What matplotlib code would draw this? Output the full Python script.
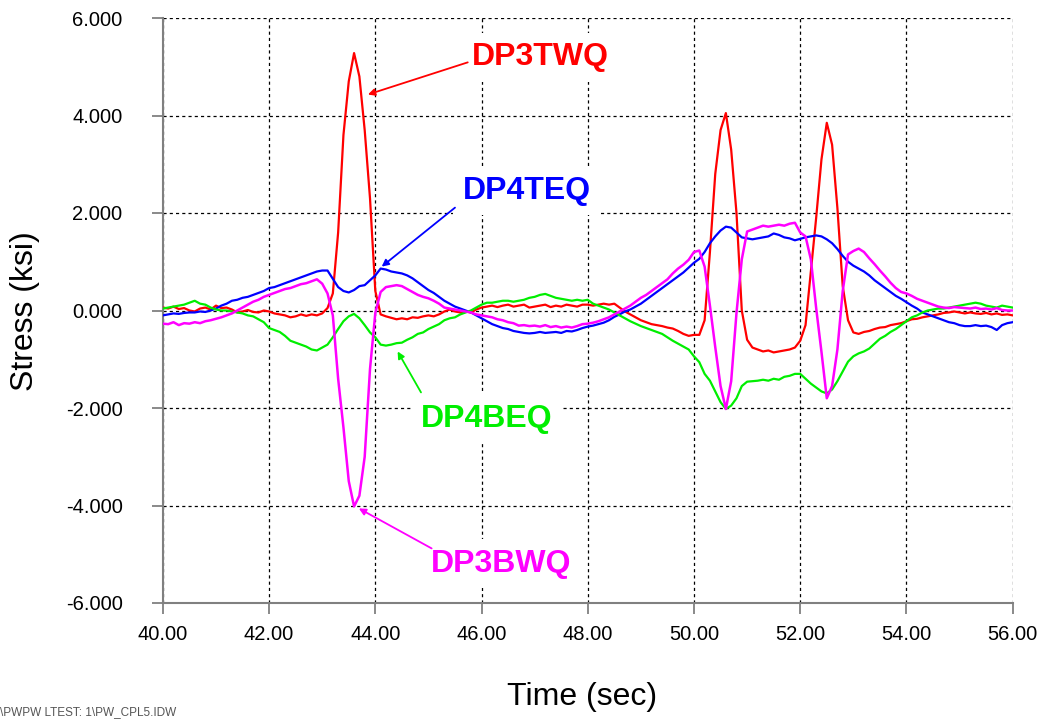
import numpy as np
from matplotlib import pyplot as plt

plt.rcParams["font.family"] = ["Liberation Sans", "DejaVu Sans"]

# strain gauge channels, one sample every 0.1 s from 40.0 to 56.0 s
time_sec = np.round(np.arange(400, 561) / 10.0, 1)

dp3twq = [
    0.06, 0.04, 0.08, 0.03, 0.05, 0.00, -0.02, 0.04, 0.06, 0.02,
    0.10, 0.05, 0.06, 0.02, -0.04, -0.02, 0.01, -0.03, -0.04, 0.00,
    -0.02, -0.06, -0.08, -0.10, -0.14, -0.12, -0.08, -0.11, -0.08, -0.10,
    -0.06, 0.05, 0.35, 1.60, 3.60, 4.70, 5.28, 4.80, 3.70, 2.30,
    0.40, -0.08, -0.12, -0.15, -0.18, -0.16, -0.18, -0.14, -0.15, -0.12,
    -0.10, -0.12, -0.08, -0.02, 0.02, -0.02, -0.04, -0.02, -0.04, 0.02,
    0.06, 0.08, 0.10, 0.07, 0.10, 0.12, 0.08, 0.10, 0.12, 0.06,
    0.08, 0.10, 0.12, 0.07, 0.10, 0.08, 0.12, 0.10, 0.08, 0.12,
    0.12, 0.10, 0.12, 0.14, 0.12, 0.14, 0.06, -0.02, -0.08, -0.14,
    -0.20, -0.24, -0.28, -0.30, -0.32, -0.35, -0.37, -0.42, -0.48, -0.52,
    -0.50, -0.50, -0.20, 1.20, 2.80, 3.70, 4.05, 3.30, 2.00, 0.00,
    -0.60, -0.76, -0.80, -0.84, -0.82, -0.86, -0.84, -0.82, -0.80, -0.76,
    -0.62, -0.30, 0.80, 1.90, 3.10, 3.85, 3.40, 2.10, 0.50, -0.20,
    -0.45, -0.48, -0.44, -0.42, -0.38, -0.35, -0.34, -0.30, -0.28, -0.26,
    -0.22, -0.18, -0.17, -0.14, -0.12, -0.10, -0.08, -0.05, -0.04, -0.02,
    -0.04, -0.06, -0.04, -0.06, -0.07, -0.05, -0.08, -0.06, -0.09, -0.08,
    -0.10,
]

dp4teq = [
    -0.10, -0.08, -0.06, -0.07, -0.05, -0.04, -0.04, -0.02, -0.03, 0.00,
    0.04, 0.10, 0.14, 0.20, 0.22, 0.26, 0.28, 0.32, 0.36, 0.40,
    0.46, 0.48, 0.52, 0.56, 0.60, 0.64, 0.68, 0.72, 0.76, 0.80,
    0.82, 0.82, 0.65, 0.48, 0.40, 0.37, 0.42, 0.50, 0.52, 0.62,
    0.72, 0.86, 0.84, 0.80, 0.78, 0.76, 0.72, 0.66, 0.58, 0.50,
    0.42, 0.36, 0.28, 0.20, 0.14, 0.08, 0.04, 0.00, -0.04, -0.10,
    -0.16, -0.22, -0.28, -0.32, -0.36, -0.38, -0.42, -0.44, -0.46, -0.47,
    -0.46, -0.44, -0.46, -0.45, -0.44, -0.46, -0.42, -0.43, -0.40, -0.36,
    -0.33, -0.31, -0.28, -0.25, -0.20, -0.13, -0.08, -0.02, 0.02, 0.08,
    0.14, 0.22, 0.30, 0.38, 0.46, 0.54, 0.62, 0.70, 0.78, 0.88,
    0.98, 1.06, 1.20, 1.38, 1.52, 1.64, 1.72, 1.70, 1.60, 1.50,
    1.48, 1.46, 1.48, 1.50, 1.52, 1.58, 1.55, 1.50, 1.48, 1.44,
    1.47, 1.50, 1.52, 1.54, 1.52, 1.46, 1.38, 1.26, 1.12, 1.00,
    0.92, 0.86, 0.80, 0.72, 0.62, 0.54, 0.46, 0.38, 0.30, 0.24,
    0.17, 0.10, 0.04, -0.04, -0.08, -0.12, -0.16, -0.20, -0.24, -0.26,
    -0.30, -0.32, -0.32, -0.30, -0.32, -0.31, -0.34, -0.40, -0.30, -0.26,
    -0.24,
]

dp4beq = [
    0.04, 0.06, 0.08, 0.10, 0.12, 0.16, 0.20, 0.14, 0.12, 0.06,
    0.02, 0.00, 0.00, -0.02, -0.04, -0.06, -0.10, -0.12, -0.18, -0.24,
    -0.36, -0.40, -0.44, -0.52, -0.62, -0.66, -0.70, -0.74, -0.80, -0.82,
    -0.76, -0.70, -0.55, -0.38, -0.22, -0.12, -0.07, -0.16, -0.30, -0.45,
    -0.55, -0.70, -0.72, -0.70, -0.67, -0.66, -0.60, -0.55, -0.48, -0.45,
    -0.38, -0.33, -0.28, -0.20, -0.16, -0.14, -0.08, -0.04, 0.00, 0.06,
    0.12, 0.16, 0.16, 0.18, 0.20, 0.20, 0.18, 0.20, 0.22, 0.26,
    0.28, 0.32, 0.34, 0.30, 0.26, 0.24, 0.22, 0.20, 0.22, 0.20,
    0.22, 0.14, 0.10, 0.06, 0.02, -0.04, -0.10, -0.16, -0.22, -0.27,
    -0.32, -0.36, -0.40, -0.44, -0.48, -0.55, -0.62, -0.68, -0.74, -0.80,
    -0.94, -1.06, -1.30, -1.44, -1.66, -1.88, -2.02, -1.95, -1.80, -1.55,
    -1.46, -1.45, -1.44, -1.42, -1.44, -1.40, -1.42, -1.36, -1.34, -1.30,
    -1.30, -1.40, -1.50, -1.58, -1.66, -1.70, -1.62, -1.45, -1.25, -1.05,
    -0.94, -0.88, -0.84, -0.78, -0.68, -0.58, -0.52, -0.44, -0.38, -0.30,
    -0.22, -0.14, -0.10, -0.04, 0.00, 0.02, 0.04, 0.04, 0.06, 0.08,
    0.10, 0.12, 0.14, 0.16, 0.14, 0.10, 0.08, 0.06, 0.10, 0.08,
    0.06,
]

dp3bwq = [
    -0.27, -0.28, -0.24, -0.30, -0.26, -0.27, -0.24, -0.26, -0.22, -0.20,
    -0.17, -0.14, -0.10, -0.06, 0.00, 0.06, 0.12, 0.18, 0.22, 0.28,
    0.32, 0.36, 0.40, 0.44, 0.46, 0.50, 0.54, 0.56, 0.60, 0.64,
    0.55, 0.35, -0.10, -1.40, -2.40, -3.50, -4.02, -3.80, -3.00, -1.20,
    -0.05, 0.38, 0.48, 0.50, 0.52, 0.50, 0.44, 0.38, 0.32, 0.28,
    0.25, 0.20, 0.14, 0.06, 0.04, 0.02, 0.00, -0.02, -0.04, -0.08,
    -0.10, -0.12, -0.14, -0.18, -0.20, -0.24, -0.26, -0.31, -0.30, -0.32,
    -0.31, -0.33, -0.30, -0.34, -0.32, -0.35, -0.33, -0.35, -0.32, -0.28,
    -0.27, -0.25, -0.22, -0.18, -0.14, -0.08, -0.02, 0.04, 0.10, 0.18,
    0.26, 0.32, 0.40, 0.48, 0.56, 0.64, 0.76, 0.86, 0.94, 1.04,
    1.20, 1.23, 0.90, 0.10, -0.75, -1.55, -2.02, -1.45, -0.05, 1.05,
    1.62, 1.66, 1.70, 1.74, 1.72, 1.74, 1.76, 1.74, 1.78, 1.80,
    1.60, 1.52, 1.05, 0.05, -0.85, -1.80, -1.55, -0.80, 0.40, 1.15,
    1.22, 1.27, 1.20, 1.07, 0.95, 0.82, 0.70, 0.57, 0.46, 0.38,
    0.35, 0.30, 0.24, 0.20, 0.16, 0.12, 0.08, 0.06, 0.05, 0.07,
    0.06, 0.05, 0.04, 0.06, 0.03, 0.04, 0.02, 0.05, 0.01, 0.00,
    0.00,
]

x_ticks = [40, 42, 44, 46, 48, 50, 52, 54, 56]
y_ticks = [-6, -4, -2, 0, 2, 4, 6]


def stress_figure():
    fig = plt.figure(figsize=(10.44, 7.2), dpi=100)
    ax = fig.add_axes([0.156, 0.1625, 0.814, 0.8125])

    ax.plot(time_sec, dp3twq, color="#ff0000", lw=1.6, zorder=3)
    ax.plot(time_sec, dp4teq, color="#0000ff", lw=1.6, zorder=3)
    ax.plot(time_sec, dp4beq, color="#00ee00", lw=1.6, zorder=3)
    ax.plot(time_sec, dp3bwq, color="#ff00ff", lw=1.8, zorder=3)

    ax.set_xlim(40, 56)
    ax.set_ylim(-6, 6)
    ax.set_xticks(x_ticks)
    ax.set_yticks(y_ticks)
    ax.set_xticklabels([f"{v:.2f}" for v in x_ticks])
    ax.set_yticklabels([f"{v:.3f}" for v in y_ticks])
    ax.tick_params(axis="both", direction="out", length=8, width=1.3,
                   color="#808080", labelsize=14.5)
    ax.tick_params(axis="y", pad=21)
    ax.tick_params(axis="x", pad=8)

    ax.grid(True, color="black", lw=0.9, linestyle=(0, (2.5, 2.5)))
    for side in ("top", "right"):
        ax.spines[side].set_visible(False)
    for side in ("left", "bottom"):
        ax.spines[side].set_color("#808080")
        ax.spines[side].set_linewidth(1.5)

    # channel labels with pointer arrows
    labels = [
        ("DP3TWQ", "#ff0000", (47.10, 5.19), (45.74, 5.09), (43.86, 4.43)),
        ("DP4TEQ", "#0000ff", (46.85, 2.46), (45.50, 2.11), (44.12, 0.90)),
        ("DP4BEQ", "#00ee00", (46.10, -2.22), (44.86, -1.68), (44.42, -0.84)),
        ("DP3BWQ", "#ff00ff", (46.36, -5.19), (45.06, -4.88), (43.69, -4.06)),
    ]
    for name, color, pos, tail, head in labels:
        ax.text(pos[0], pos[1], name, color=color, fontsize=23, fontweight="bold",
                ha="center", va="center", zorder=5,
                bbox=dict(facecolor="white", edgecolor="none", pad=7))
        ax.annotate("", xy=head, xytext=tail, zorder=6,
                    arrowprops=dict(arrowstyle="-|>", color=color, lw=1.3,
                                    mutation_scale=10, shrinkA=0, shrinkB=0))

    fig.text(0.024, 0.568, "Stress (ksi)", rotation=90, fontsize=23,
             ha="center", va="center")
    fig.text(0.558, 0.032, "Time (sec)", fontsize=23, ha="center", va="center")
    fig.text(0.0, 0.002, "\\PWPW LTEST: 1\\PW_CPL5.IDW", fontsize=8.5,
             color="#555555", ha="left", va="bottom")

    fig.savefig("out.png", dpi=100)


def main():
    stress_figure()


if __name__ == "__main__":
    main()
